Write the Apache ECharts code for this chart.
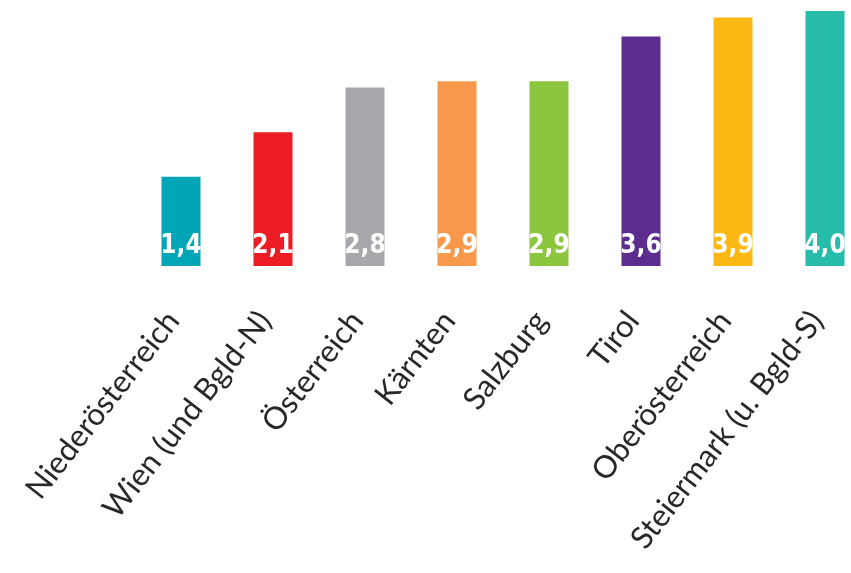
<!DOCTYPE html>
<html>
<head>
<meta charset="utf-8">
<style>
html,body{margin:0;padding:0;background:#fff;}
#chart{width:851px;height:573px;}
</style>
<script src="https://cdn.jsdelivr.net/npm/echarts@6/dist/echarts.min.js"></script>
</head>
<body>
<div id="chart"></div>
<script>
var categories = ["Niederösterreich", "Wien (und Bgld-N)", "Österreich", "Kärnten", "Salzburg", "Tirol", "Oberösterreich", "Steiermark (u. Bgld-S)"];
var values = [1.4, 2.1, 2.8, 2.9, 2.9, 3.6, 3.9, 4.0];
var barColors = ["#00A6B6", "#ED1C24", "#A6A8AB", "#F7984A", "#8CC63F", "#5C2D8F", "#FDB813", "#27BBA9"];

var chart = echarts.init(document.getElementById('chart'));
chart.setOption({
  animation: false,
  grid: {left: 135, top: 11, width: 736, height: 255, containLabel: false, outerBoundsMode: 'none'},
  xAxis: {
    type: 'category',
    data: categories,
    axisLine: {show: false},
    axisTick: {show: false},
    axisLabel: {
      rotate: 52,
      interval: 0,
      margin: 39,
      padding: [0, 13, 0, 0],
      fontSize: 31,
      fontFamily: 'Lato, "Open Sans", sans-serif',
      color: '#2a2728'
    }
  },
  yAxis: {
    type: 'value',
    min: 0,
    max: 4,
    show: false
  },
  series: [{
    type: 'bar',
    barWidth: 39,
    data: values.map(function (v, i) {
      return {value: v, itemStyle: {color: barColors[i]}};
    }),
    label: {
      show: true,
      position: 'insideBottom',
      distance: 7,
      color: '#fff',
      fontSize: 26,
      fontWeight: 'bold',
      fontFamily: '"Liberation Sans Narrow", "DejaVu Sans Condensed", sans-serif',
      formatter: function (p) { return p.value.toFixed(1).replace('.', ','); }
    }
  }]
});
</script>
</body>
</html>
